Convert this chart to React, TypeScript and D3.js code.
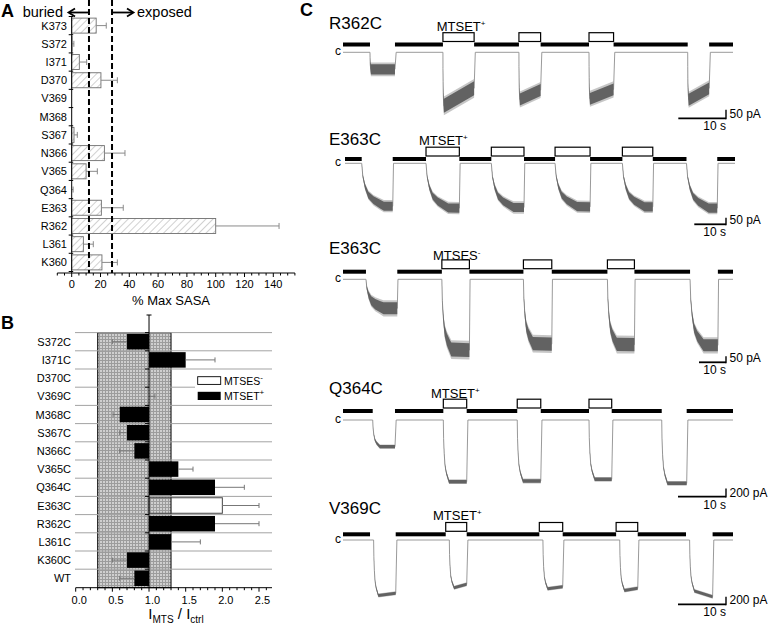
import React from "react";
import * as d3 from "d3";

const FONT = "'Liberation Sans', Arial, Helvetica, sans-serif";

// ---------- Panel A: % max SASA ----------
const sasaResidues = ["K373", "S372", "I371", "D370", "V369", "M368", "S367", "N366", "V365", "Q364", "E363", "R362", "L361", "K360"];
const sasaValues = [17, 0.3, 5.3, 20.3, 0, 0, 1.6, 22.7, 10, 0, 20.6, 100, 8.1, 21];
const sasaErrors = [7, 1.2, 5.1, 11.4, 0, 0, 2.3, 14.3, 7.8, 1, 15.2, 44, 6.9, 10.7];
const buriedCutoff = 12;
const exposedCutoff = 28;
const sasaTicks = [0, 20, 40, 60, 80, 100, 120, 140];

// ---------- Panel B: I_MTS / I_ctrl ----------
const mtsMutants = ["S372C", "I371C", "D370C", "V369C", "M368C", "S367C", "N366C", "V365C", "Q364C", "E363C", "R362C", "L361C", "K360C", "WT"];
const mtsRatios = [0.7, 1.5, 1.0, 1.0, 0.6, 0.7, 0.8, 1.4, 1.9, 2.0, 1.9, 1.3, 0.7, 0.8];
const mtsErrors = [0.2, 0.4, 0, 0.08, 0.09, 0.1, 0.2, 0.2, 0.4, 0.5, 0.6, 0.4, 0.2, 0.2];
const mtsReagents = ["MTSET", "MTSET", "MTSET", "MTSET", "MTSET", "MTSET", "MTSET", "MTSET", "MTSET", "MTSES", "MTSET", "MTSET", "MTSET", "MTSET"];
const noEffectRange = [0.3, 1.3];
const ratioTicks = [0, 0.5, 1, 1.5, 2, 2.5];

// ---------- Panel C: current traces ----------
const traceNames = ["R362C", "E363C", "E363C", "Q364C", "V369C"];
const traceReagents = ["MTSET", "MTSET", "MTSES", "MTSET", "MTSET"];
const traceCharges = ["+", "+", "-", "+", "+"];
const traceDurations = [81.8, 123.0, 144.4, 81.25, 81.25]; // s
const traceScalePA = [50, 50, 50, 200, 200];
const traceScaleS = [10, 10, 10, 10, 10];
const traceOnsetDelay = [0, 0, 0, 0, 0.75]; // s
// normalised activation time course: [fraction of rise time, fraction of amplitude]
const onsetShape: [number, number][] = [[0, 0], [0.05, 0.3], [0.15, 0.54], [0.3, 0.74], [0.53, 0.86], [0.83, 0.95], [1, 1]];
// pulse: [start s, end s, reagent co-applied (1/0), |I| start pA, |I| end pA, noise pA, rise time s]
type Pulse = [number, number, number, number, number, number, number];
const pulsesR362C: Pulse[] = [
  [5.66, 10.9, 0, 100, 100, 30, 0.2],
  [20.96, 27.5, 1, 318, 212, 41, 0.2],
  [36.9, 41.45, 1, 280, 222, 35, 0.2],
  [51.6, 56.75, 1, 276, 218, 35, 0.2],
  [72.3, 76.8, 0, 282, 212, 35, 0.2],
];
const pulsesE363C_T: Pulse[] = [
  [5.27, 15.05, 0, 330, 330, 35, 7],
  [25.55, 36.06, 1, 340, 345, 35, 7],
  [46.15, 56.45, 1, 340, 340, 35, 7],
  [66.25, 77.29, 1, 330, 335, 35, 7],
  [87.48, 97.07, 1, 335, 335, 35, 7],
  [107.7, 117.4, 0, 345, 345, 35, 7],
];
const pulsesE363C_S: Pulse[] = [
  [8.5, 20.1, 0, 242, 242, 50, 6.5],
  [36.6, 46.8, 1, 583, 590, 58, 3.5],
  [66.8, 77.3, 1, 533, 540, 55, 3.5],
  [97.9, 107.9, 1, 542, 545, 55, 3.5],
  [128.5, 138.8, 0, 550, 550, 50, 5],
];
const pulsesQ364C: Pulse[] = [
  [6.19, 10.83, 0, 643, 643, 40, 1.5],
  [20.9, 25.77, 1, 1487, 1487, 43, 1.2],
  [36.3, 41.2, 1, 1470, 1470, 43, 1.2],
  [51.25, 55.98, 1, 1429, 1429, 43, 1.2],
  [66.4, 71.6, 0, 1525, 1525, 43, 1.2],
];
const pulsesV369C: Pulse[] = [
  [5.63, 10.98, 0, 1511, 1422, 40, 1.0],
  [21.4, 25.77, 1, 1333, 1182, 40, 1.0],
  [40.9, 45.77, 1, 1333, 1244, 40, 1.0],
  [56.9, 61.4, 1, 1378, 1289, 40, 1.0],
  [71.46, 77.0, 0, 1289, 1511, 40, 1.0],
];
const tracePulses = [pulsesR362C, pulsesE363C_T, pulsesE363C_S, pulsesQ364C, pulsesV369C];

// layout for panel C (positions only)
const traceLayout = [
  { x0: 343, x1: 733, barY: 44.5, baseY: 52.3, nameY: 29, reagentX: 436.7, reagentY: 30.7, scaleY: 118.3, gain: 0.17 },
  { x0: 345, x1: 735, barY: 159, baseY: 163.3, nameY: 145, reagentX: 419, reagentY: 145, scaleY: 224.3, gain: 0.13 },
  { x0: 343, x1: 733, barY: 271.7, baseY: 279.3, nameY: 254, reagentX: 433, reagentY: 259.5, scaleY: 362.3, gain: 0.12 },
  { x0: 343, x1: 733, barY: 411, baseY: 420, nameY: 394, reagentX: 431, reagentY: 398, scaleY: 496.7, gain: 0.0415 },
  { x0: 343, x1: 733, barY: 534.3, baseY: 540, nameY: 514, reagentX: 433, reagentY: 520, scaleY: 604.3, gain: 0.0375 },
];

type Pt = { t: number; d: number; n: number };

function buildTrace(pulses: Pulse[], duration: number, delay: number) {
  const all: Pt[] = [{ t: 0, d: 0, n: 0 }];
  const segs: Pt[][] = [];
  for (const [s, e, , a0, a1, noise, rise] of pulses) {
    const on = s + delay;
    const seg: Pt[] = [{ t: on, d: 0, n: 0 }];
    for (const [u, f] of onsetShape.slice(1)) {
      const t = on + u * rise;
      if (t >= e) break;
      const a = a0 + ((a1 - a0) * (t - s)) / (e - s);
      seg.push({ t, d: a * f, n: noise * f });
    }
    seg.push({ t: e, d: a1, n: noise });
    all.push(...seg);
    all.push({ t: e + 0.25, d: 0, n: 0 });
    segs.push(seg);
  }
  all.push({ t: duration, d: 0, n: 0 });
  return { all, segs };
}

function Sup({ s }: { s: string }) {
  return (
    <tspan dy={-5} fontSize={8}>
      {s}
    </tspan>
  );
}

function PanelA() {
  const xA = d3.scaleLinear().domain([0, 140]).range([71.7, 273.3]);
  const yA = d3.scaleBand<string>().domain(sasaResidues).range([16.5, 271.5]);
  const bh = 15;
  const axisY = 273;
  const minor = d3.range(-10, 156, 5);
  const bounds = [...sasaResidues.map((r) => yA(r)!), 271.5];
  const xb = xA(buriedCutoff);
  const xe = xA(exposedCutoff);
  return (
    <g fontFamily={FONT}>
      <defs>
        <pattern id="hatch" width="5" height="5" patternUnits="userSpaceOnUse" patternTransform="rotate(45)">
          <rect width="5" height="5" fill="white" />
          <line x1="0" y1="0" x2="0" y2="5" stroke="#9a9a9a" strokeWidth="0.9" />
        </pattern>
      </defs>
      <text x={1} y={17} fontSize={18} fontWeight="bold">A</text>
      <text x={63} y={16.5} fontSize={14.5} textAnchor="end">buried</text>
      <text x={137} y={16.5} fontSize={14.5}>exposed</text>
      <line x1={xb - 1} x2={69} y1={12.5} y2={12.5} stroke="black" strokeWidth={1.8} />
      <polyline points={`75,8.5 68.5,12.5 75,16.5`} fill="none" stroke="black" strokeWidth={1.8} />
      <line x1={xe + 1} x2={133} y1={12.5} y2={12.5} stroke="black" strokeWidth={1.8} />
      <polyline points={`127,8.5 133.5,12.5 127,16.5`} fill="none" stroke="black" strokeWidth={1.8} />
      {sasaResidues.map((r, i) => {
        const cy = yA(r)! + yA.bandwidth() / 2;
        const v = sasaValues[i];
        const e = sasaErrors[i];
        return (
          <g key={r}>
            <text x={67} y={cy + 4} fontSize={11} textAnchor="end">{r}</text>
            {v > 0 && (
              <rect x={xA(0)} y={cy - bh / 2} width={xA(v) - xA(0)} height={bh} fill="url(#hatch)" stroke="#6f6f6f" strokeWidth={0.9} />
            )}
            {e > 0 && (
              <g stroke="#8a8a8a" strokeWidth={1}>
                <line x1={xA(v)} x2={xA(v + e)} y1={cy} y2={cy} />
                <line x1={xA(v + e)} x2={xA(v + e)} y1={cy - 3} y2={cy + 3} />
              </g>
            )}
          </g>
        );
      })}
      <line x1={xb} x2={xb} y1={0} y2={axisY} stroke="black" strokeWidth={2} strokeDasharray="6,3" />
      <line x1={xe} x2={xe} y1={0} y2={axisY} stroke="black" strokeWidth={2} strokeDasharray="6,3" />
      <line x1={xA(0)} x2={xA(0)} y1={16.5} y2={axisY} stroke="black" strokeWidth={1} />
      {bounds.map((b, i) => (
        <line key={i} x1={xA(0) - 3} x2={xA(0) + 1.5} y1={b} y2={b} stroke="black" strokeWidth={1} />
      ))}
      <line x1={xA(-10)} x2={xA(155)} y1={axisY} y2={axisY} stroke="black" strokeWidth={1} />
      {minor.map((t) => (
        <line key={t} x1={xA(t)} x2={xA(t)} y1={axisY} y2={axisY + (sasaTicks.includes(t) ? 4 : 2.5)} stroke="black" strokeWidth={1} />
      ))}
      {sasaTicks.map((t) => (
        <text key={t} x={xA(t)} y={287.5} fontSize={11} textAnchor="middle">{t}</text>
      ))}
      <text x={171} y={305} fontSize={13} textAnchor="middle">% Max SASA</text>
    </g>
  );
}

function PanelB() {
  const xB = d3.scaleLinear().domain([0, 2.5]).range([75.7, 259]);
  const yB = d3.scaleBand<string>().domain(mtsMutants).range([332.6, 587.4]);
  const axisY = 587.7;
  const bh = 15.5;
  const x1 = xB(1);
  const minor = d3.range(0, 27).map((i) => i / 10);
  return (
    <g fontFamily={FONT}>
      <defs>
        <pattern id="grid" width="3" height="3" patternUnits="userSpaceOnUse">
          <rect width="3" height="3" fill="#cfcfcf" />
          <rect width="3" height="1" fill="#9c9c9c" />
          <rect width="1" height="3" fill="#9c9c9c" />
        </pattern>
      </defs>
      <text x={1} y={328.5} fontSize={18} fontWeight="bold">B</text>
      <rect x={xB(noEffectRange[0])} y={332.6} width={xB(noEffectRange[1]) - xB(noEffectRange[0])} height={axisY - 332.6} fill="url(#grid)" stroke="black" strokeWidth={1} />
      {mtsMutants.map((m) => (
        <line key={m} x1={75} x2={272} y1={yB(m)!} y2={yB(m)!} stroke="#a3a3a3" strokeWidth={1} />
      ))}
      {/* legend */}
      <rect x={195} y={372} width={78} height={32} fill="white" />
      <rect x={197.7} y={376.7} width={23} height={7.7} fill="white" stroke="black" strokeWidth={0.9} />
      <text x={224} y={385} fontSize={10.5}>MTSES<Sup s="-" /></text>
      <rect x={197.7} y={391.8} width={23} height={8.2} fill="black" />
      <text x={224} y={400} fontSize={10.5}>MTSET<Sup s="+" /></text>
      {mtsMutants.map((m, i) => {
        const cy = yB(m)! + yB.bandwidth() / 2;
        const v = mtsRatios[i];
        const e = mtsErrors[i];
        const white = mtsReagents[i] === "MTSES";
        const xa = Math.min(xB(v), x1);
        const xw = Math.abs(xB(v) - x1);
        const dir = v >= 1 ? 1 : -1;
        const xe = xB(v + dir * e);
        return (
          <g key={m}>
            <text x={71} y={cy + 4} fontSize={11} textAnchor="end">{m}</text>
            {xw > 0 && (
              <rect x={xa} y={cy - bh / 2} width={xw} height={bh} fill={white ? "none" : "black"} stroke={white ? "#444" : "black"} strokeWidth={white ? 1 : 0} />
            )}
            {e > 0 && (
              <g stroke="#777" strokeWidth={1}>
                <line x1={xB(v)} x2={xe} y1={cy} y2={cy} />
                <line x1={xe} x2={xe} y1={cy - 2.5} y2={cy + 2.5} />
              </g>
            )}
          </g>
        );
      })}
      <line x1={x1} x2={x1} y1={315} y2={axisY} stroke="black" strokeWidth={1} />
      <line x1={x1 - 2.5} x2={x1 + 2.5} y1={315} y2={315} stroke="black" strokeWidth={1} />
      {mtsMutants.map((m) => (
        <line key={m} x1={x1 - 4} x2={x1} y1={yB(m)!} y2={yB(m)!} stroke="black" strokeWidth={1} />
      ))}
      <line x1={xB(0)} x2={272} y1={axisY} y2={axisY} stroke="black" strokeWidth={1} />
      {minor.map((t) => (
        <line key={t} x1={xB(t)} x2={xB(t)} y1={axisY} y2={axisY + (Math.abs((t * 2) % 1) < 1e-6 ? 4 : 2.5)} stroke="black" strokeWidth={1} />
      ))}
      {ratioTicks.map((t) => (
        <text key={t} x={xB(t) + 3.5} y={603.5} fontSize={11} textAnchor="middle">{t.toFixed(1)}</text>
      ))}
      <text x={176} y={619} fontSize={15} textAnchor="middle">
        I<tspan fontSize={10} dy={4}>MTS</tspan>
        <tspan fontSize={15} dy={-4}> / I</tspan>
        <tspan fontSize={10} dy={4}>ctrl</tspan>
      </text>
    </g>
  );
}

function Trace({ idx }: { idx: number }) {
  const L = traceLayout[idx];
  const dur = traceDurations[idx];
  const pulses = tracePulses[idx];
  const x = d3.scaleLinear().domain([0, dur]).range([L.x0, L.x1]);
  const y = (d: number) => L.baseY + d * L.gain;
  const { all, segs } = buildTrace(pulses, dur, traceOnsetDelay[idx]);
  const line = d3.line<Pt>().x((p) => x(p.t)).y((p) => y(p.d));
  const bandOuter = d3.area<Pt>().x((p) => x(p.t)).y0((p) => y(p.d - p.n * 1.35)).y1((p) => y(p.d + p.n * 1.35));
  const band = d3.area<Pt>().x((p) => x(p.t)).y0((p) => y(p.d - p.n)).y1((p) => y(p.d + p.n));
  // black bars: complement of pulses
  const bars: [number, number][] = [];
  let prev = 0;
  for (const p of pulses) {
    bars.push([prev, p[0]]);
    prev = p[1];
  }
  bars.push([prev, dur]);
  const sbLen = x(traceScaleS[idx]) - x(0);
  const sbH = traceScalePA[idx] * L.gain;
  return (
    <g fontFamily={FONT}>
      <text x={329} y={L.nameY} fontSize={17}>{traceNames[idx]}</text>
      <text x={L.reagentX} y={L.reagentY} fontSize={13}>
        {traceReagents[idx]}
        <Sup s={traceCharges[idx]} />
      </text>
      <text x={341} y={L.baseY + 3} fontSize={12} textAnchor="end">c</text>
      {bars.map(([a, b], i) => (
        <rect key={i} x={x(a)} y={L.barY - 2} width={x(b) - x(a)} height={4} fill="black" />
      ))}
      {pulses.filter((p) => p[2] === 1).map((p, i) => (
        <rect key={i} x={x(p[0])} y={L.barY - 3 - 8.8} width={x(p[1]) - x(p[0])} height={8.8} fill="white" stroke="black" strokeWidth={1.2} />
      ))}
      <path d={line(all)!} fill="none" stroke="#8f8f8f" strokeWidth={0.9} />
      {segs.map((s, i) => (
        <g key={i}>
          <path d={bandOuter(s)!} fill="#a0a0a0" opacity={0.6} />
          <path d={band(s)!} fill="#626262" />
        </g>
      ))}
      <line x1={726 - sbLen} x2={726} y1={L.scaleY} y2={L.scaleY} stroke="black" strokeWidth={1.8} />
      <line x1={726} x2={726} y1={L.scaleY - sbH} y2={L.scaleY + 0.9} stroke="black" strokeWidth={1.4} />
      <text x={729.5} y={L.scaleY} fontSize={12}>{traceScalePA[idx]} pA</text>
      <text x={726} y={L.scaleY + 12} fontSize={12} textAnchor="end">{traceScaleS[idx]} s</text>
    </g>
  );
}

export default function App() {
  return (
    <svg width={770} height={628} style={{ position: "absolute", left: 0, top: 0, background: "white" }}>
      <rect width={770} height={628} fill="white" />
      <PanelA />
      <PanelB />
      <text x={300} y={15.5} fontSize={18} fontWeight="bold" fontFamily={FONT}>C</text>
      {traceNames.map((_, i) => (
        <Trace key={i} idx={i} />
      ))}
    </svg>
  );
}
